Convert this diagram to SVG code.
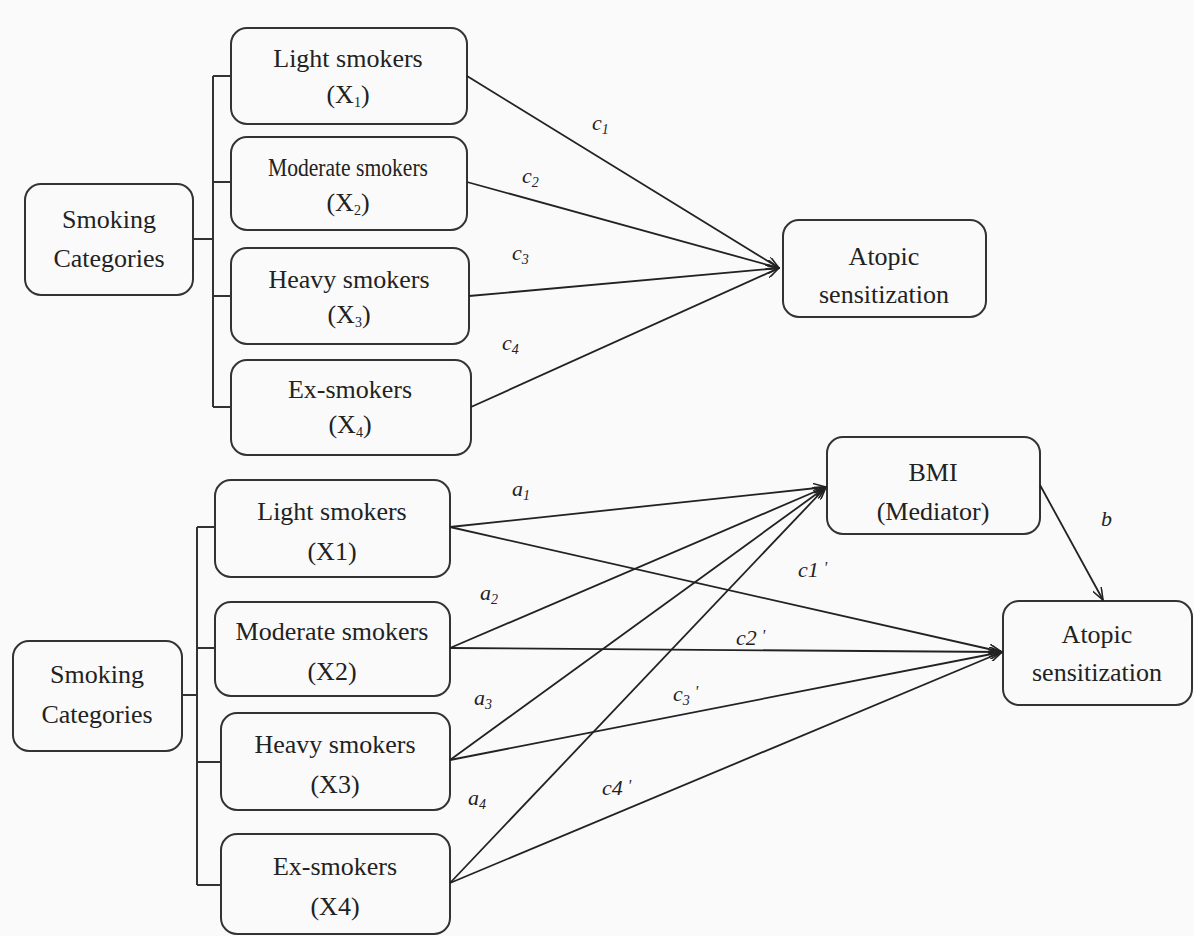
<svg xmlns="http://www.w3.org/2000/svg" width="1194" height="936" viewBox="0 0 1194 936">
<defs>
<marker id="arr" viewBox="0 0 14 10" refX="13" refY="5" markerWidth="14" markerHeight="10" markerUnits="userSpaceOnUse" orient="auto">
<path d="M0,0 L13,5 L0,10" fill="none" stroke="#222" stroke-width="1.6"/>
</marker>
<style>
.box{fill:none;stroke:#333;stroke-width:2}
.t{font-family:'Liberation Serif','DejaVu Serif',serif;font-size:26px;fill:#222;text-anchor:middle}
.l{font-family:'Liberation Serif','DejaVu Serif',serif;font-size:22px;font-style:italic;fill:#222}
.s{font-size:14px}
.c{fill:none;stroke:#222;stroke-width:1.8}
.tree{fill:none;stroke:#333;stroke-width:2}
</style>
</defs>
<rect x="0" y="0" width="1194" height="936" fill="#fafafa"/>

<g id="top-smoking">
<rect class="box" x="25" y="184" width="168" height="111" rx="16"/>
<text class="t" x="109" y="228">Smoking</text>
<text class="t" x="109" y="267">Categories</text>
</g>
<g id="top-light">
<rect class="box" x="231" y="28" width="236" height="96" rx="16"/>
<text class="t" x="348" y="67">Light smokers</text>
<text class="t" x="348" y="103">(X<tspan class="s" dy="4">1</tspan><tspan dy="-4">)</tspan></text>
</g>
<g id="top-moderate">
<rect class="box" x="231" y="137" width="236" height="93" rx="16"/>
<text class="t" x="348" y="176" textLength="160" lengthAdjust="spacingAndGlyphs">Moderate  smokers</text>
<text class="t" x="348" y="211">(X<tspan class="s" dy="4">2</tspan><tspan dy="-4">)</tspan></text>
</g>
<g id="top-heavy">
<rect class="box" x="231" y="248" width="238" height="96" rx="16"/>
<text class="t" x="349" y="288">Heavy smokers</text>
<text class="t" x="349" y="323">(X<tspan class="s" dy="4">3</tspan><tspan dy="-4">)</tspan></text>
</g>
<g id="top-ex">
<rect class="box" x="231" y="360" width="240" height="95" rx="16"/>
<text class="t" x="350" y="398">Ex-smokers</text>
<text class="t" x="350" y="433">(X<tspan class="s" dy="4">4</tspan><tspan dy="-4">)</tspan></text>
</g>
<g id="top-atopic">
<rect class="box" x="783" y="220" width="203" height="97" rx="16"/>
<text class="t" x="884" y="265">Atopic</text>
<text class="t" x="884" y="303">sensitization</text>
</g>

<g id="bottom-smoking">
<rect class="box" x="13" y="641" width="169" height="110" rx="16"/>
<text class="t" x="97" y="683">Smoking</text>
<text class="t" x="97" y="723">Categories</text>
</g>
<g id="bottom-light">
<rect class="box" x="215" y="480" width="235" height="97" rx="16"/>
<text class="t" x="332" y="520">Light smokers</text>
<text class="t" x="332" y="560">(X1)</text>
</g>
<g id="bottom-moderate">
<rect class="box" x="215" y="602" width="235" height="94" rx="16"/>
<text class="t" x="332" y="640">Moderate smokers</text>
<text class="t" x="332" y="680">(X2)</text>
</g>
<g id="bottom-heavy">
<rect class="box" x="221" y="713" width="229" height="97" rx="16"/>
<text class="t" x="335" y="753">Heavy smokers</text>
<text class="t" x="335" y="793">(X3)</text>
</g>
<g id="bottom-ex">
<rect class="box" x="221" y="834" width="229" height="100" rx="16"/>
<text class="t" x="335" y="875">Ex-smokers</text>
<text class="t" x="335" y="915">(X4)</text>
</g>
<g id="bottom-bmi">
<rect class="box" x="827" y="437" width="213" height="97" rx="16"/>
<text class="t" x="933" y="481">BMI</text>
<text class="t" x="933" y="520">(Mediator)</text>
</g>
<g id="bottom-atopic">
<rect class="box" x="1003" y="601" width="189" height="104" rx="16"/>
<text class="t" x="1097" y="643">Atopic</text>
<text class="t" x="1097" y="681">sensitization</text>
</g>

<g id="connectors">
<path class="tree" d="M193,239 H213 M213,76 V407 M213,76 H231 M213,182 H231 M213,296 H231 M213,407 H231"/>
<path class="tree" d="M182,695 H197 M197,527 V885 M197,527 H215 M197,648 H215 M197,762 H221 M197,885 H221"/>
<line class="c" x1="467" y1="76" x2="779" y2="268" marker-end="url(#arr)"/>
<line class="c" x1="467" y1="182" x2="779" y2="268" marker-end="url(#arr)"/>
<line class="c" x1="469" y1="296" x2="779" y2="268" marker-end="url(#arr)"/>
<line class="c" x1="471" y1="407" x2="779" y2="268" marker-end="url(#arr)"/>

<line class="c" x1="450" y1="527" x2="826" y2="487" marker-end="url(#arr)"/>
<line class="c" x1="450" y1="648" x2="826" y2="487" marker-end="url(#arr)"/>
<line class="c" x1="450" y1="760" x2="826" y2="487" marker-end="url(#arr)"/>
<line class="c" x1="450" y1="883" x2="826" y2="487" marker-end="url(#arr)"/>
<line class="c" x1="450" y1="527" x2="1002" y2="652" marker-end="url(#arr)"/>
<line class="c" x1="450" y1="648" x2="1002" y2="652" marker-end="url(#arr)"/>
<line class="c" x1="450" y1="760" x2="1002" y2="652" marker-end="url(#arr)"/>
<line class="c" x1="450" y1="883" x2="1002" y2="652" marker-end="url(#arr)"/>
<line class="c" x1="1040" y1="485" x2="1103" y2="600" marker-end="url(#arr)"/>
</g>

<g id="labels">
<text class="l" x="592" y="130">c<tspan class="s" dy="4">1</tspan></text>
<text class="l" x="522" y="183">c<tspan class="s" dy="4">2</tspan></text>
<text class="l" x="512" y="260">c<tspan class="s" dy="4">3</tspan></text>
<text class="l" x="502" y="350">c<tspan class="s" dy="4">4</tspan></text>

<text class="l" x="512" y="496">a<tspan class="s" dy="4">1</tspan></text>
<text class="l" x="480" y="600">a<tspan class="s" dy="4">2</tspan></text>
<text class="l" x="474" y="705">a<tspan class="s" dy="4">3</tspan></text>
<text class="l" x="468" y="805">a<tspan class="s" dy="4">4</tspan></text>

<text class="l" x="798" y="577">c1<tspan dx="5" dy="-4" font-size="16">'</tspan></text>
<text class="l" x="736" y="645">c2<tspan dx="5" dy="-4" font-size="16">'</tspan></text>
<text class="l" x="673" y="701">c<tspan class="s" dy="4">3</tspan><tspan dx="5" dy="-8" font-size="16">'</tspan></text>
<text class="l" x="602" y="795">c4<tspan dx="5" dy="-4" font-size="16">'</tspan></text>
<text class="l" x="1101" y="526">b</text>
</g>
</svg>
